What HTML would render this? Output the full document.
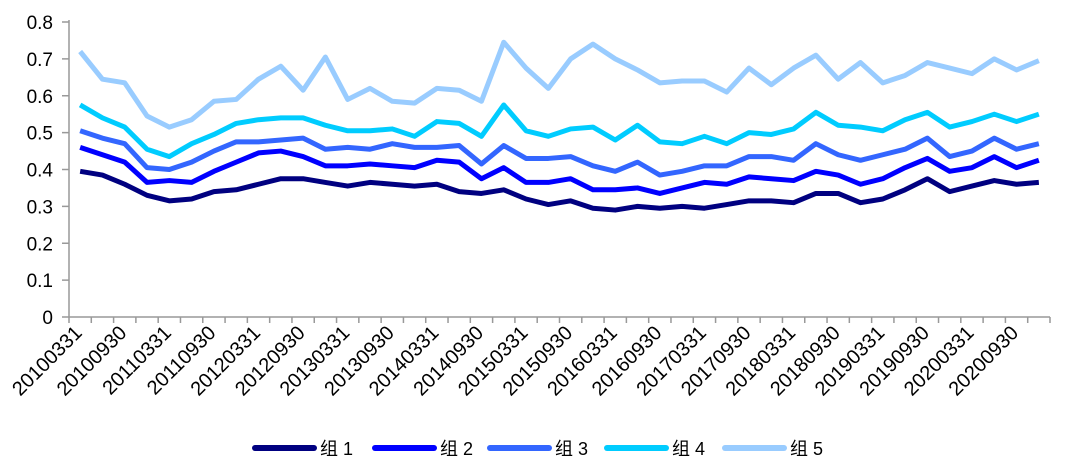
<!DOCTYPE html>
<html><head><meta charset="utf-8"><style>
body{margin:0;background:#fff;}
svg{display:block;font-family:"Liberation Sans","Noto Sans CJK SC",sans-serif;}
</style></head><body>
<svg id="chart" width="1065" height="468" viewBox="0 0 1065 468"></svg>
<script>
const categories=[];
for(let y=2010;y<=2020;y++){for(const q of ["0331","0630","0930","1231"])categories.push(y+q);}
const seriesNames=["组 1","组 2","组 3","组 4","组 5"];
const s1=[0.395,0.385,0.36,0.33,0.315,0.32,0.34,0.345,0.36,0.375,0.375,0.365,0.355,0.365,0.36,0.355,0.36,0.34,0.335,0.345,0.32,0.305,0.315,0.295,0.29,0.30,0.295,0.30,0.295,0.305,0.315,0.315,0.31,0.335,0.335,0.31,0.32,0.345,0.375,0.34,0.355,0.37,0.36,0.365];
const s2=[0.46,0.44,0.42,0.365,0.37,0.365,0.395,0.42,0.445,0.45,0.435,0.41,0.41,0.415,0.41,0.405,0.425,0.42,0.375,0.405,0.365,0.365,0.375,0.345,0.345,0.35,0.335,0.35,0.365,0.36,0.38,0.375,0.37,0.395,0.385,0.36,0.375,0.405,0.43,0.395,0.405,0.435,0.405,0.425];
const s3=[0.505,0.485,0.47,0.405,0.40,0.42,0.45,0.475,0.475,0.48,0.485,0.455,0.46,0.455,0.47,0.46,0.46,0.465,0.415,0.465,0.43,0.43,0.435,0.41,0.395,0.42,0.385,0.395,0.41,0.41,0.435,0.435,0.425,0.47,0.44,0.425,0.44,0.455,0.485,0.435,0.45,0.485,0.455,0.47];
const s4=[0.575,0.54,0.515,0.455,0.435,0.47,0.495,0.525,0.535,0.54,0.54,0.52,0.505,0.505,0.51,0.49,0.53,0.525,0.49,0.575,0.505,0.49,0.51,0.515,0.48,0.52,0.475,0.47,0.49,0.47,0.50,0.495,0.51,0.555,0.52,0.515,0.505,0.535,0.555,0.515,0.53,0.55,0.53,0.55];
const s5=[0.72,0.645,0.635,0.545,0.515,0.535,0.585,0.59,0.645,0.68,0.615,0.705,0.59,0.62,0.585,0.58,0.62,0.615,0.585,0.745,0.675,0.62,0.70,0.74,0.70,0.67,0.635,0.64,0.64,0.61,0.675,0.63,0.675,0.71,0.645,0.69,0.635,0.655,0.69,0.675,0.66,0.70,0.67,0.695];
const yTicks=[0,0.1,0.2,0.3,0.4,0.5,0.6,0.7,0.8];
const yTickLabels=["0","0.1","0.2","0.3","0.4","0.5","0.6","0.7","0.8"];

const NS="http://www.w3.org/2000/svg";
const svg=document.getElementById('chart');
const L=69,R=1050,T=22,B=317;
const band=(R-L)/categories.length;
const x=i=>L+band*(i+0.5);
const y=v=>B-(v/0.8)*(B-T);
function mk(tag,attrs,parent){const e=document.createElementNS(NS,tag);for(const k in attrs)e.setAttribute(k,attrs[k]);(parent||svg).appendChild(e);return e;}

const axes=mk('g',{});


const ya=mk('line',{x1:L,y1:T-2,x2:L,y2:B,stroke:'#999','stroke-width':1.5},axes);


yTicks.forEach((t,i)=>{
  mk('line',{x1:L-7,y1:y(t),x2:L,y2:y(t),stroke:'#999','stroke-width':1.5},axes);
  const tx=mk('text',{x:53,y:y(t)+7,'text-anchor':'end','font-size':19,fill:'#000'},axes);
  tx.textContent=yTickLabels[i];
  
  
});
const xa=mk('line',{x1:L,y1:B,x2:R,y2:B,stroke:'#999','stroke-width':1.5},axes);


for(let i=0;i<=categories.length;i++)mk('line',{x1:L+band*i,y1:B,x2:L+band*i,y2:B+6,stroke:'#999','stroke-width':1.5},axes);
categories.forEach((c,i)=>{
  if(i%2)return;
  const px=x(i)+3,py=B+17;
  const tx=mk('text',{x:px,y:py,'text-anchor':'end','font-size':20,fill:'#000',transform:`rotate(-45 ${px} ${py})`},axes);
  tx.textContent=c;
  
  
});

const colors=["#000080","#0000ff","#3366ff","#00ccff","#99ccff"];
const data=[s1,s2,s3,s4,s5];
for(let k=4;k>=0;k--){
  const p=mk('polyline',{points:data[k].map((v,i)=>x(i)+','+y(v)).join(' '),fill:'none',stroke:colors[k],'stroke-width':5,'stroke-linejoin':'round'});
  
  
}
const legX=[252,372,487,604,722];
seriesNames.forEach((n,k)=>{
  const g=mk('g',{});
  
  
  mk('line',{x1:legX[k]+3,y1:448,x2:legX[k]+62,y2:448,stroke:colors[k],'stroke-width':6,'stroke-linecap':'round'},g);
  const t=mk('text',{x:legX[k]+68,y:455,'font-size':18,fill:'#000'},g);
  t.textContent=n;
});
</script>
</body></html>
